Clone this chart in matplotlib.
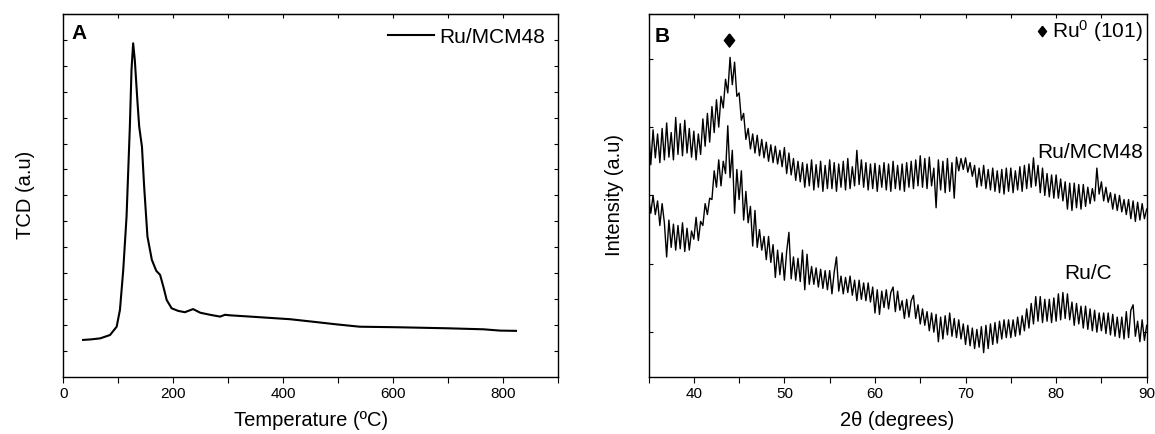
"""
TPR (A) and XRD (B) panels, Ru/MCM48 vs Ru/C
"""
import numpy as np
import matplotlib
matplotlib.use('Agg')
import matplotlib.pyplot as plt

# ---- data ----
# Panel A: TCD signal vs temperature (degC)
tpr_temp = [36, 50, 67, 85, 97, 103, 109, 115, 121, 124, 127, 130, 135, 138,
            143, 147, 153, 161, 169, 176, 182, 188, 197, 209, 221, 236, 249,
            267, 285, 294, 303, 340, 412, 455, 497, 539, 606, 697, 764, 794,
            823]
tpr_signal = [1.42, 1.44, 1.48, 1.61, 1.93, 2.58, 4.12, 6.18, 9.65, 11.84,
              12.87, 12.23, 10.56, 9.65, 8.88, 7.34, 5.41, 4.51, 4.09, 3.93,
              3.47, 2.96, 2.64, 2.54, 2.49, 2.61, 2.47, 2.39, 2.32, 2.39,
              2.37, 2.32, 2.22, 2.12, 2.02, 1.93, 1.91, 1.87, 1.83, 1.78,
              1.77]

# Panel B: XRD intensity, 2theta 35..90 in 0.25 deg steps (one row per degree)
two_theta = np.arange(35, 90.01, 0.25)
xrd_mcm48 = [
    3.02, 2.45, 2.96, 2.55,  2.90, 2.48, 2.98, 2.52,  3.06, 2.56, 2.92, 2.52,
    3.14, 2.60, 3.05, 2.58,  3.10, 2.62, 2.98, 2.56,  2.94, 2.52, 2.90, 2.60,
    3.12, 2.72, 3.20, 2.78,  3.30, 2.92, 3.40, 3.00,  3.45, 3.28, 3.70, 3.50,
    4.02, 3.62, 3.95, 3.45,  3.50, 3.10, 3.20, 2.82,  2.98, 2.68, 2.90, 2.62,
    2.88, 2.58, 2.82, 2.55,  2.78, 2.50, 2.74, 2.48,  2.72, 2.46, 2.66, 2.42,
    2.70, 2.32, 2.62, 2.30,  2.54, 2.22, 2.50, 2.20,  2.48, 2.12, 2.46, 2.14,
    2.52, 2.08, 2.45, 2.12,  2.50, 2.06, 2.44, 2.10,  2.52, 2.10, 2.48, 2.06,
    2.46, 2.12, 2.50, 2.08,  2.54, 2.10, 2.42, 2.14,  2.66, 2.16, 2.52, 2.12,
    2.48, 2.08, 2.46, 2.10,  2.47, 2.06, 2.44, 2.12,  2.48, 2.08, 2.46, 2.06,
    2.50, 2.10, 2.44, 2.08,  2.46, 2.06, 2.48, 2.12,  2.50, 2.10, 2.52, 2.14,
    2.58, 2.12, 2.54, 2.10,  2.56, 2.14, 2.40, 1.82,  2.52, 2.08, 2.50, 2.04,
    2.54, 2.06, 2.48, 1.96,  2.56, 2.36, 2.54, 2.38,  2.55, 2.34, 2.48, 2.28,
    2.44, 2.12, 2.40, 2.14,  2.44, 2.10, 2.38, 2.08,  2.40, 2.06, 2.36, 2.04,
    2.38, 2.02, 2.40, 2.06,  2.40, 2.04, 2.36, 2.08,  2.42, 2.06, 2.44, 2.10,
    2.46, 2.12, 2.55, 2.14,  2.44, 2.04, 2.40, 2.00,  2.32, 1.98, 2.30, 1.96,
    2.30, 1.96, 2.24, 1.92,  2.20, 1.80, 2.18, 1.78,  2.18, 1.82, 2.16, 1.80,
    2.16, 1.84, 2.12, 1.88,  2.10, 1.92, 2.40, 2.02,  2.20, 1.92, 2.12, 1.90,
    2.04, 1.80, 2.02, 1.78,  2.00, 1.76, 1.94, 1.72,  1.94, 1.66, 1.92, 1.62,
    1.90, 1.64, 1.88, 1.66,  1.80]
xrd_ruc = [
    1.98, 1.74, 2.00, 1.72,  1.92, 1.56, 1.88, 1.60,  1.10, 1.64, 1.24, 1.58,
    1.20, 1.56, 1.22, 1.60,  1.18, 1.52, 1.20, 1.48,  1.36, 1.68, 1.34, 1.62,
    1.56, 1.88, 1.72, 1.96,  1.94, 2.36, 2.12, 2.52,  2.14, 2.50, 2.32, 3.02,
    2.26, 2.66, 1.74, 2.38,  1.94, 2.36, 1.64, 2.06,  1.60, 1.84, 1.26, 1.78,
    1.24, 1.50, 1.20, 1.40,  1.06, 1.40, 1.02, 1.28,  0.80, 1.20, 0.84, 1.16,
    0.76, 1.18, 1.46, 0.78,  1.10, 0.76, 1.08, 0.74,  1.20, 0.62, 1.14, 0.70,
    0.96, 0.70, 0.94, 0.66,  0.92, 0.64, 0.90, 0.62,  0.90, 0.56, 0.88, 1.10,
    0.60, 0.82, 0.56, 0.80,  0.58, 0.82, 0.54, 0.76,  0.46, 0.76, 0.48, 0.72,
    0.46, 0.72, 0.44, 0.66,  0.28, 0.62, 0.26, 0.60,  0.36, 0.62, 0.34, 0.58,
    0.66, 0.30, 0.60, 0.32,  0.46, 0.20, 0.48, 0.22,  0.46, 0.54, 0.20, 0.40,
    0.12, 0.34, 0.10, 0.30,  0.02, 0.28, 0.00, 0.26,  -0.14, 0.22, -0.10, 0.24,
    -0.04, 0.28, -0.06, 0.20,  -0.08, 0.18, -0.10, 0.12,  -0.18, 0.10, -0.20, 0.06,
    -0.24, 0.04, -0.22, 0.08,  -0.30, 0.10, -0.24, 0.12,  -0.18, 0.14, -0.16, 0.16,
    -0.10, 0.18, -0.08, 0.18,  -0.08, 0.18, -0.06, 0.22,  -0.04, 0.24, 0.02, 0.34,
    0.06, 0.42, 0.12, 0.52,  0.16, 0.52, 0.14, 0.48,  0.16, 0.48, 0.14, 0.50,
    0.16, 0.56, 0.18, 0.58,  0.20, 0.56, 0.18, 0.44,  0.10, 0.42, 0.12, 0.38,
    0.06, 0.38, 0.04, 0.34,  0.02, 0.32, 0.00, 0.28,  0.02, 0.28, -0.02, 0.28,
    -0.04, 0.26, -0.06, 0.22,  -0.08, 0.22, -0.10, 0.30,  -0.08, 0.32, 0.40, -0.06,
    0.16, -0.14, 0.18, -0.12,  0.10]
peak_pos = 43.85      # Ru0 (101) reflection
peak_mark_y = 4.28

FONT = 'Liberation Sans'
plt.rcParams['font.family'] = [FONT, 'DejaVu Sans']
plt.rcParams['mathtext.fontset'] = 'custom'
plt.rcParams['mathtext.rm'] = FONT
plt.rcParams['mathtext.it'] = FONT

# diamond a little taller than wide
diamond = [(0, 1), (0.78, 0), (0, -1), (-0.78, 0), (0, 1)]

fig = plt.figure(figsize=(11.55, 4.34), dpi=100)
ax1 = fig.add_axes([0.0548, 0.132, 0.4286, 0.8357])
ax2 = fig.add_axes([0.5615, 0.132, 0.4313, 0.8357])


def style_axes(ax, top_ticks):
    for s in ax.spines.values():
        s.set_linewidth(1.0)
    ax.tick_params(axis='x', which='both', direction='out', top=False,
                   labelsize=11, length=4, width=0.8, pad=3.5)
    ax.tick_params(axis='y', which='both', direction='in', left=True,
                   right=True, labelleft=False, length=3, width=0.8)
    sec = ax.secondary_xaxis('top')
    sec.set_xticks(top_ticks)
    sec.tick_params(direction='in', length=3, width=0.8, labeltop=False)


# ---- panel A ----
ax1.plot(tpr_temp, tpr_signal, color='black', lw=1.5, label='Ru/MCM48')
ax1.set_xlim(0, 900)
ax1.set_ylim(0, 14)
ax1.set_xticks(range(0, 901, 200))
ax1.set_xticks(range(100, 901, 200), minor=True)
ax1.set_yticks(range(1, 14))
style_axes(ax1, range(0, 901, 100))
ax1.set_xlabel('Temperature (ºC)', fontsize=14.5)
ax1.set_ylabel('TCD (a.u)', fontsize=14.5)
ax1.xaxis.set_label_coords(0.5, -0.095)
ax1.yaxis.set_label_coords(-0.058, 0.5)
ax1.text(0.017, 0.972, 'A', transform=ax1.transAxes, fontsize=15,
         fontweight='bold', va='top')
ax1.legend(loc='upper right', frameon=False, fontsize=15, handlelength=2.2,
           handletextpad=0.25, borderaxespad=0.3, borderpad=0.35)

# ---- panel B ----
ax2.plot(two_theta, xrd_mcm48, color='black', lw=1.0)
ax2.plot(two_theta, xrd_ruc, color='black', lw=1.0)
ax2.set_xlim(35, 90)
ax2.set_ylim(-0.652, 4.654)
ax2.set_xticks(range(40, 91, 10))
ax2.set_xticks(range(35, 91, 10), minor=True)
ax2.set_yticks(range(0, 5))
style_axes(ax2, range(35, 91, 5))
ax2.set_xlabel('2θ (degrees)', fontsize=14.5)
ax2.set_ylabel('Intensity (a.u)', fontsize=14.5)
ax2.xaxis.set_label_coords(0.5, -0.095)
ax2.yaxis.set_label_coords(-0.05, 0.5)
ax2.text(0.013, 0.965, 'B', transform=ax2.transAxes, fontsize=15,
         fontweight='bold', va='top')
ax2.plot([peak_pos], [peak_mark_y], marker=diamond, color='black', ms=9.5,
         ls='none')
ax2.plot([78.45], [4.40], marker=diamond, color='black', ms=7.5, ls='none')
ax2.text(89.6, 4.40, r'Ru$^{0}$ (101)', fontsize=15, ha='right', va='center')
ax2.text(89.6, 2.63, 'Ru/MCM48', fontsize=15, ha='right', va='center')
ax2.text(86.2, 0.86, 'Ru/C', fontsize=15, ha='right', va='center')

fig.savefig('out.png', dpi=100, facecolor='white')
